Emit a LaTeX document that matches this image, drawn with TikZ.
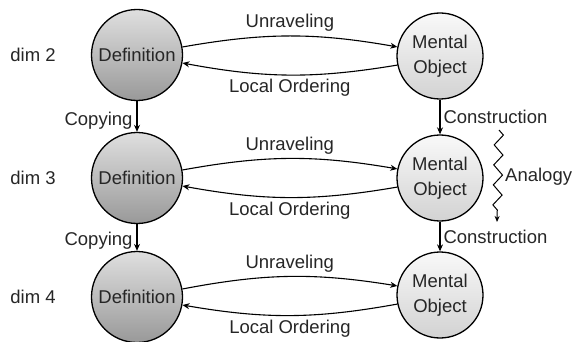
\documentclass[tikz,border=0pt]{standalone}
\usepackage{fontspec}
\setmainfont{Liberation Sans}
\usetikzlibrary{arrows.meta,decorations.pathmorphing}

\tikzset{
  defn/.style={circle,draw,line width=1.3pt,minimum size=91pt,inner sep=0pt,
    top color=gray!25,bottom color=gray!80,text=black!85},
  mental/.style={circle,draw,line width=1.3pt,minimum size=86pt,inner sep=0pt,
    top color=gray!5,bottom color=gray!35,align=center,text=black!85},
  link/.style={line width=1.1pt,-{Stealth[length=7pt,width=6pt]}},
  lbl/.style={text=black!85}
}

\begin{document}
\begin{tikzpicture}[x=1pt,y=-1pt,font=\fontsize{18.5}{25}\selectfont]
\useasboundingbox (0,0) rectangle (573,342);

% circles
\node [defn] (def2) at (137,55) {Definition};
\node [defn] (def3) at (137,178) {Definition};
\node [defn] (def4) at (137,297) {Definition};
\node [mental] (men2) at (440,56) {Mental\\Object};
\node [mental] (men3) at (440,178) {Mental\\Object};
\node [mental] (men4) at (440,295) {Mental\\Object};

% dimension labels
\node [lbl] (dim2) at (33,55) {dim 2};
\node [lbl] (dim3) at (33,178) {dim 3};
\node [lbl] (dim4) at (33,297) {dim 4};

% unraveling and local ordering
\foreach \d in {2,3,4}{
  \draw [link] (def\d.10) to[bend left=10]
    node [lbl,above,inner sep=4pt] {Unraveling} (men\d.168);
  \draw [link] (men\d.192) to[bend left=10]
    node [lbl,below,inner sep=4pt] {Local Ordering} (def\d.-10);
}

% copying and construction
\draw [link] (def2) -- node [lbl,left,inner sep=4pt,yshift=-4pt] {Copying} (def3);
\draw [link] (def3) -- node [lbl,left,inner sep=4pt,yshift=-3pt] {Copying} (def4);
\draw [link] (men2) -- node [lbl,right,inner sep=3pt] {Construction} (men3);
\draw [link] (men3) -- node [lbl,right,inner sep=3pt] {Construction} (men4);

% analogy
\coordinate (ana1) at (499,130);
\coordinate (ana2) at (497,222);
\draw [line width=1pt,-{Stealth[length=6pt,width=5pt]},
  decorate,decoration={zigzag,segment length=20pt,amplitude=4.5pt,post length=8pt}]
  (ana1) -- (ana2);
\node [lbl,anchor=west,inner sep=0pt] (analogy) at (505,177) {Analogy};
\end{tikzpicture}
\end{document}
